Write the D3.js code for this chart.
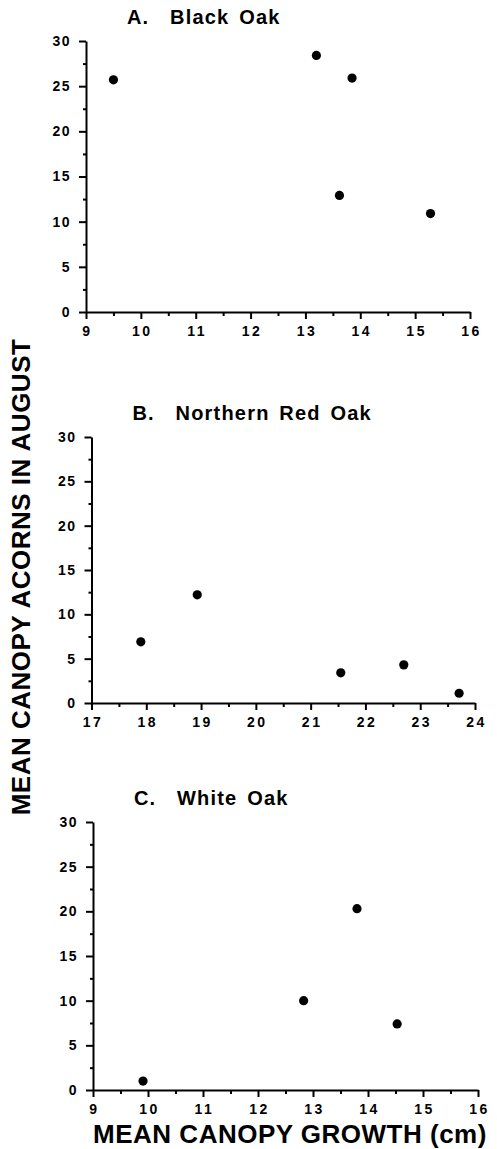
<!DOCTYPE html>
<html>
<head>
<meta charset="utf-8">
<script src="https://cdn.jsdelivr.net/npm/d3@7"></script>
<style>
  body { margin: 0; background: #fff; }
  svg text { font-family: "Liberation Sans", Arial, Helvetica, sans-serif; fill: #000; }
</style>
</head>
<body>
<svg id="chart" width="497" height="1149"></svg>
<script>
// values
var panelLetters = ['A.', 'B.', 'C.'];
var panelNames = ['Black Oak', 'Northern Red Oak', 'White Oak'];

var blackOakGrowth = [9.5, 13.2, 13.85, 13.62, 15.28];
var blackOakAcorns = [25.7, 28.4, 25.9, 12.9, 10.9];

var redOakGrowth = [17.9, 18.93, 21.55, 22.7, 23.71];
var redOakAcorns = [6.9, 12.2, 3.4, 4.3, 1.1];

var whiteOakGrowth = [9.91, 12.83, 13.8, 14.53];
var whiteOakAcorns = [1.0, 10.0, 20.3, 7.4];

var yTicks = [0, 5, 10, 15, 20, 25, 30];
var xTicksAC = [9, 10, 11, 12, 13, 14, 15, 16];
var xTicksB = [17, 18, 19, 20, 21, 22, 23, 24];

var xTitle = 'MEAN CANOPY GROWTH (cm)';
var yTitle = 'MEAN CANOPY ACORNS IN AUGUST';

var svg = d3.select('#chart');

// one entry per panel; pixel box of each plot
var panels = [
    {x: blackOakGrowth, y: blackOakAcorns, ticks: xTicksAC, left: 86, right: 470, top: 41, bottom: 312},
    {x: redOakGrowth, y: redOakAcorns, ticks: xTicksB, left: 91.5, right: 475, top: 437, bottom: 703},
    {x: whiteOakGrowth, y: whiteOakAcorns, ticks: xTicksAC, left: 93, right: 478, top: 822, bottom: 1090}
];

panels.forEach(function(p, i) {
    var xDom = d3.extent(p.ticks);
    var x = d3.scaleLinear().domain(xDom).range([p.left, p.right]);
    var y = d3.scaleLinear().domain([0, 30]).range([p.bottom, p.top]);
    var g = svg.append('g');

    // minor ticks
    g.append('g')
        .attr('transform', 'translate(0,' + p.bottom + ')')
        .call(d3.axisBottom(x).tickValues(d3.range(xDom[0] + 0.5, xDom[1], 1)).tickSize(4).tickFormat(''))
        .call(function(a) { a.select('.domain').remove(); });
    g.append('g')
        .attr('transform', 'translate(' + p.left + ',0)')
        .call(d3.axisLeft(y).tickValues(d3.range(2.5, 30, 5)).tickSize(3).tickFormat(''))
        .call(function(a) { a.select('.domain').remove(); });

    var xa = g.append('g')
        .attr('transform', 'translate(0,' + p.bottom + ')')
        .call(d3.axisBottom(x).tickValues(p.ticks).tickFormat(d3.format('d'))
            .tickSize(7).tickPadding(7).tickSizeOuter(0));
    xa.selectAll('text').attr('font-size', 14).attr('font-weight', 'bold').attr('letter-spacing', 2.5)
        .attr('dx', 1);

    var ya = g.append('g')
        .attr('transform', 'translate(' + p.left + ',0)')
        .call(d3.axisLeft(y).tickValues(yTicks).tickFormat(d3.format('d'))
            .tickSize(7).tickPadding(8).tickSizeOuter(0));
    ya.selectAll('text').attr('font-size', 14).attr('font-weight', 'bold').attr('letter-spacing', 1.5);

    g.selectAll('.domain').attr('stroke-width', 2);
    g.selectAll('.tick line').attr('stroke-width', 2);
    g.selectAll('.tick text').attr('font-family', '"Liberation Sans", Arial, sans-serif');

    g.selectAll('circle.pt')
        .data(p.x.map(function(v, j) { return [v, p.y[j]]; }))
        .enter().append('circle')
        .attr('class', 'pt')
        .attr('cx', function(d) { return x(d[0]); })
        .attr('cy', function(d) { return y(d[1]); })
        .attr('r', 4.6)
        .attr('fill', '#000');

    // panel title
    var ty = p.top - 17;
    g.append('text').attr('x', p.left + 41).attr('y', ty)
        .attr('font-size', 20).attr('font-weight', 'bold').attr('letter-spacing', 1)
        .text(panelLetters[i]);
    g.append('text').attr('x', p.left + 84).attr('y', ty)
        .attr('font-size', 20).attr('font-weight', 'bold').attr('letter-spacing', 1.2)
        .attr('word-spacing', 3)
        .text(panelNames[i]);
});

svg.append('text')
    .attr('x', 290).attr('y', 1143)
    .attr('text-anchor', 'middle')
    .attr('font-size', 26).attr('font-weight', 'bold').attr('letter-spacing', 0.5)
    .text(xTitle);

svg.append('text')
    .attr('transform', 'translate(30,577) rotate(-90)')
    .attr('text-anchor', 'middle')
    .attr('font-size', 26).attr('font-weight', 'bold').attr('letter-spacing', 0.5)
    .text(yTitle);
</script>
</body>
</html>
